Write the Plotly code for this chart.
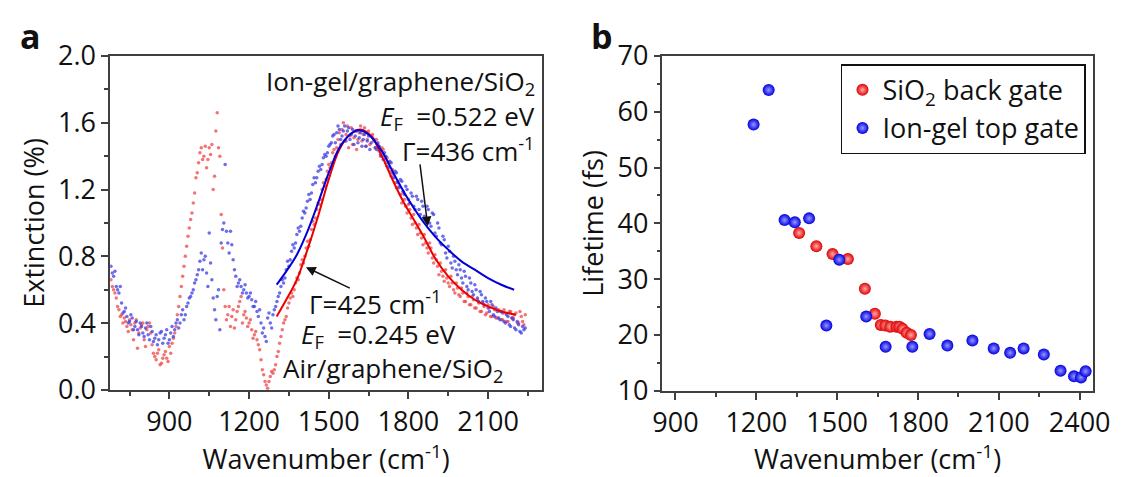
import plotly.graph_objects as go

# ---------------- Panel a data ----------------
wn = [680, 690, 700, 710, 720, 730, 740, 750, 760, 770, 780, 790, 800, 810, 820, 830, 840, 850, 860, 870,
      880, 890, 900, 910, 920, 930, 940, 950, 960, 970, 980, 990, 1000, 1010, 1020, 1030, 1040, 1050, 1060, 1070,
      1080, 1090, 1100, 1110, 1120, 1130, 1140, 1150, 1160, 1170, 1180, 1190, 1200, 1210, 1220, 1230, 1240, 1250, 1260, 1270,
      1280, 1290, 1300, 1310, 1320, 1330, 1340, 1350, 1360, 1370, 1380, 1390, 1400, 1410, 1420, 1430, 1440, 1450, 1460, 1470,
      1480, 1490, 1500, 1510, 1520, 1530, 1540, 1550, 1560, 1570, 1580, 1590, 1600, 1610, 1620, 1630, 1640, 1650, 1660, 1670,
      1680, 1690, 1700, 1710, 1720, 1730, 1740, 1750, 1760, 1770, 1780, 1790, 1800, 1810, 1820, 1830, 1840, 1850, 1860, 1870,
      1880, 1890, 1900, 1910, 1920, 1930, 1940, 1950, 1960, 1970, 1980, 1990, 2000, 2010, 2020, 2030, 2040, 2050, 2060, 2070,
      2080, 2090, 2100, 2110, 2120, 2130, 2140, 2150, 2160, 2170, 2180, 2190, 2200, 2210, 2220, 2230, 2240]

air_ext = [0.66, 0.60, 0.55, 0.48, 0.45, 0.43, 0.38, 0.42, 0.36, 0.40, 0.25, 0.37, 0.40, 0.26, 0.38, 0.34, 0.22, 0.18, 0.24, 0.16,
           0.21, 0.19, 0.26, 0.28, 0.34, 0.45, 0.56, 0.68, 0.80, 0.92, 1.02, 1.12, 1.27, 1.36, 1.45, 1.40, 1.33, 1.45, 1.47, 1.28,
           1.66, 1.40, 0.85, 0.50, 0.45, 0.38, 0.48, 0.42, 0.50, 0.56, 0.45, 0.43, 0.40, 0.36, 0.33, 0.30, 0.24, 0.12, 0.05, 0.01,
           0.08, 0.10, 0.15, 0.23, 0.32, 0.40, 0.44, 0.52, 0.58, 0.60, 0.67, 0.70, 0.78, 0.80, 0.89, 0.90, 1.01, 1.03, 1.12, 1.14,
           1.24, 1.26, 1.35, 1.36, 1.44, 1.45, 1.54, 1.56, 1.49, 1.58, 1.52, 1.47, 1.55, 1.50, 1.58, 1.53, 1.46, 1.55, 1.52, 1.49,
           1.50, 1.43, 1.45, 1.38, 1.39, 1.31, 1.32, 1.24, 1.25, 1.17, 1.18, 1.10, 1.11, 1.03, 1.05, 0.97, 0.99, 0.91, 0.93, 0.85,
           0.88, 0.79, 0.81, 0.74, 0.76, 0.68, 0.72, 0.64, 0.68, 0.60, 0.64, 0.57, 0.61, 0.53, 0.58, 0.51, 0.56, 0.49, 0.54, 0.47,
           0.52, 0.45, 0.51, 0.44, 0.50, 0.43, 0.48, 0.42, 0.48, 0.41, 0.47, 0.43, 0.45, 0.40, 0.47, 0.41, 0.45]

wn_half = [685, 695, 705, 715, 725, 735, 745, 755, 765, 775, 785, 795, 805, 815, 825, 835, 845, 855, 865, 875,
           885, 895, 905, 915, 925, 935, 945, 955, 965, 975, 985, 995, 1005, 1015, 1025, 1035, 1045, 1055, 1065, 1075,
           1085, 1095, 1105, 1115, 1125, 1135, 1145, 1155, 1165, 1175, 1185, 1195, 1205, 1215, 1225, 1235, 1245, 1255, 1265, 1275,
           1285, 1295, 1305, 1315, 1325, 1335, 1345, 1355, 1365, 1375, 1385, 1395, 1405, 1415, 1425, 1435, 1445, 1455, 1465, 1475,
           1485, 1495, 1505, 1515, 1525, 1535, 1545, 1555, 1565, 1575, 1585, 1595, 1605, 1615, 1625, 1635, 1645, 1655, 1665, 1675,
           1685, 1695, 1705, 1715, 1725, 1735, 1745, 1755, 1765, 1775, 1785, 1795, 1805, 1815, 1825, 1835, 1845, 1855, 1865, 1875,
           1885, 1895, 1905, 1915, 1925, 1935, 1945, 1955, 1965, 1975, 1985, 1995, 2005, 2015, 2025, 2035, 2045, 2055, 2065, 2075,
           2085, 2095, 2105, 2115, 2125, 2135, 2145, 2155, 2165, 2175, 2185, 2195, 2205, 2215, 2225, 2235]

air_ext_half = [0.62, 0.58, 0.50, 0.44, 0.40, 0.41, 0.35, 0.39, 0.30, 0.42, 0.34, 0.39, 0.30, 0.36, 0.40, 0.27, 0.20, 0.22, 0.15, 0.19,
                0.23, 0.17, 0.22, 0.31, 0.38, 0.50, 0.62, 0.74, 0.86, 0.97, 1.06, 1.18, 1.30, 1.42, 1.38, 1.46, 1.38, 1.41, 1.20, 1.55,
                1.45, 1.05, 0.60, 0.42, 0.50, 0.44, 0.37, 0.47, 0.53, 0.40, 0.47, 0.38, 0.42, 0.31, 0.35, 0.27, 0.18, 0.09, 0.03, 0.05,
                0.11, 0.12, 0.20, 0.28, 0.36, 0.42, 0.49, 0.55, 0.56, 0.64, 0.66, 0.75, 0.76, 0.85, 0.86, 0.96, 0.99, 1.08, 1.11, 1.20,
                1.22, 1.31, 1.33, 1.42, 1.40, 1.50, 1.47, 1.60, 1.53, 1.45, 1.57, 1.51, 1.44, 1.54, 1.49, 1.57, 1.50, 1.47, 1.53, 1.45,
                1.47, 1.40, 1.44, 1.36, 1.36, 1.28, 1.29, 1.21, 1.22, 1.12, 1.14, 1.06, 1.08, 0.99, 1.00, 0.93, 0.94, 0.87, 0.88, 0.82,
                0.85, 0.76, 0.78, 0.69, 0.71, 0.65, 0.67, 0.62, 0.64, 0.58, 0.61, 0.56, 0.58, 0.53, 0.56, 0.51, 0.54, 0.49, 0.52, 0.47,
                0.50, 0.46, 0.49, 0.44, 0.48, 0.43, 0.47, 0.42, 0.46, 0.41, 0.47, 0.43, 0.46, 0.40, 0.44, 0.39]

iongel_ext = [0.74, 0.68, 0.62, 0.58, 0.52, 0.47, 0.44, 0.41, 0.43, 0.38, 0.36, 0.40, 0.34, 0.37, 0.33, 0.38, 0.29, 0.33, 0.30, 0.35,
              0.31, 0.36, 0.30, 0.38, 0.36, 0.42, 0.40, 0.48, 0.45, 0.52, 0.56, 0.60, 0.66, 0.72, 0.82, 0.78, 0.70, 0.94, 0.66, 0.48,
              0.56, 0.36, 0.96, 1.35, 0.88, 0.95, 0.78, 0.68, 0.64, 0.62, 0.60, 0.58, 0.56, 0.54, 0.50, 0.47, 0.48, 0.34, 0.32, 0.43,
              0.40, 0.45, 0.50, 0.56, 0.62, 0.64, 0.72, 0.74, 0.83, 0.85, 0.93, 0.95, 1.03, 1.06, 1.13, 1.14, 1.23, 1.24, 1.31, 1.32,
              1.39, 1.40, 1.46, 1.48, 1.53, 1.54, 1.56, 1.52, 1.58, 1.55, 1.50, 1.56, 1.52, 1.48, 1.54, 1.50, 1.46, 1.52, 1.48, 1.50,
              1.44, 1.46, 1.40, 1.42, 1.34, 1.37, 1.30, 1.31, 1.24, 1.26, 1.19, 1.22, 1.14, 1.18, 1.10, 1.16, 1.08, 1.13, 1.04, 1.10,
              1.00, 1.06, 0.94, 1.00, 0.88, 0.92, 0.82, 0.86, 0.76, 0.80, 0.72, 0.75, 0.67, 0.71, 0.62, 0.67, 0.59, 0.63, 0.55, 0.59,
              0.53, 0.55, 0.49, 0.53, 0.45, 0.49, 0.43, 0.47, 0.41, 0.45, 0.39, 0.43, 0.37, 0.41, 0.35, 0.38, 0.37]

iongel_ext_half = [0.70, 0.71, 0.60, 0.62, 0.46, 0.49, 0.40, 0.45, 0.36, 0.41, 0.33, 0.38, 0.32, 0.40, 0.30, 0.35, 0.31, 0.27, 0.34, 0.28,
                   0.33, 0.28, 0.34, 0.32, 0.40, 0.37, 0.45, 0.42, 0.50, 0.55, 0.58, 0.64, 0.69, 0.77, 0.72, 0.80, 0.62, 0.76, 0.55, 0.42,
                   0.60, 0.88, 1.00, 0.95, 0.82, 0.87, 0.72, 0.62, 0.66, 0.58, 0.63, 0.55, 0.58, 0.50, 0.53, 0.44, 0.40, 0.37, 0.29, 0.46,
                   0.37, 0.48, 0.53, 0.58, 0.66, 0.67, 0.77, 0.78, 0.87, 0.88, 0.97, 0.98, 1.07, 1.09, 1.17, 1.18, 1.27, 1.27, 1.34, 1.35,
                   1.41, 1.42, 1.47, 1.52, 1.48, 1.58, 1.50, 1.55, 1.49, 1.57, 1.53, 1.47, 1.55, 1.51, 1.46, 1.53, 1.49, 1.44, 1.51, 1.45,
                   1.48, 1.41, 1.38, 1.40, 1.33, 1.36, 1.27, 1.30, 1.21, 1.25, 1.17, 1.20, 1.12, 1.16, 1.08, 1.14, 1.05, 1.10, 1.02, 1.08,
                   0.98, 1.05, 0.92, 0.97, 0.87, 0.90, 0.79, 0.83, 0.73, 0.77, 0.69, 0.72, 0.64, 0.68, 0.60, 0.64, 0.57, 0.60, 0.53, 0.57,
                   0.51, 0.53, 0.47, 0.51, 0.44, 0.47, 0.42, 0.46, 0.40, 0.44, 0.38, 0.42, 0.36, 0.39, 0.34, 0.36]

# fitted curves
fit_air_wn = [1304, 1340, 1380, 1420, 1460, 1500, 1540, 1580, 1620, 1660, 1700, 1740, 1780, 1820, 1860, 1900, 1950, 2000, 2050, 2100, 2150, 2204]
fit_air_ext = [0.44, 0.54, 0.66, 0.84, 1.04, 1.26, 1.44, 1.53, 1.56, 1.52, 1.40, 1.26, 1.13, 1.02, 0.91, 0.79, 0.68, 0.60, 0.54, 0.50, 0.47, 0.45]
fit_ion_wn = [1304, 1340, 1380, 1420, 1460, 1500, 1540, 1580, 1612, 1650, 1700, 1750, 1800, 1850, 1900, 1950, 2000, 2050, 2100, 2150, 2198]
fit_ion_ext = [0.63, 0.71, 0.81, 0.95, 1.12, 1.30, 1.45, 1.53, 1.555, 1.53, 1.43, 1.28, 1.14, 1.02, 0.92, 0.84, 0.77, 0.72, 0.67, 0.63, 0.60]

# ---------------- Panel b data ----------------
sio2_wn = [1359, 1423, 1483, 1540, 1603, 1640, 1662, 1679, 1697, 1720, 1731, 1743, 1758, 1774]
sio2_tau = [38.3, 35.9, 34.5, 33.6, 28.3, 23.8, 21.8, 21.7, 21.5, 21.5, 21.5, 21.1, 20.4, 20.0]
ion_wn = [1190, 1246, 1305, 1343, 1396, 1460, 1508, 1608, 1680, 1779, 1843, 1909, 2002, 2081, 2142, 2192, 2267, 2329, 2379, 2405, 2422]
ion_tau = [57.7, 63.9, 40.6, 40.2, 40.9, 21.7, 33.5, 23.3, 17.9, 17.9, 20.2, 18.1, 19.0, 17.6, 16.8, 17.6, 16.5, 13.6, 12.6, 12.4, 13.5]

W, H = 1135, 477
FONT = "Open Sans"
FS = 27
AFS = 26
AX = "#404040"


def px(x):
    return x / W


def py(y):
    return 1 - y / H


fig = go.Figure()

fig.add_trace(go.Scatter(x=wn + wn_half, y=air_ext + air_ext_half, mode="markers", xaxis="x", yaxis="y",
                         marker=dict(size=3.5, color="rgba(238,70,70,0.75)"), showlegend=False))
fig.add_trace(go.Scatter(x=wn + wn_half, y=iongel_ext + iongel_ext_half, mode="markers", xaxis="x", yaxis="y",
                         marker=dict(size=3.5, color="rgba(60,60,230,0.75)"), showlegend=False))
fig.add_trace(go.Scatter(x=fit_air_wn, y=fit_air_ext, mode="lines", line=dict(color="rgb(235,0,0)", width=2, shape="spline"),
                         xaxis="x", yaxis="y", showlegend=False))
fig.add_trace(go.Scatter(x=fit_ion_wn, y=fit_ion_ext, mode="lines", line=dict(color="rgb(0,0,215)", width=2, shape="spline"),
                         xaxis="x", yaxis="y", showlegend=False))

fig.add_trace(go.Scatter(x=sio2_wn, y=sio2_tau, mode="markers", xaxis="x2", yaxis="y2",
                         name="SiO<sub>2</sub> back gate",
                         marker=dict(size=12, color="rgb(225,0,0)", line=dict(width=0),
                                     gradient=dict(type="radial", color="rgb(255,170,170)"))))
fig.add_trace(go.Scatter(x=ion_wn, y=ion_tau, mode="markers", xaxis="x2", yaxis="y2",
                         name="Ion-gel top gate",
                         marker=dict(size=12, color="rgb(0,0,225)", line=dict(width=0),
                                     gradient=dict(type="radial", color="rgb(150,150,255)"))))

axis_common = dict(showline=True, linecolor=AX, linewidth=1.5, mirror=True, ticks="outside", ticklen=7,
                   tickwidth=1.5, tickcolor=AX, showgrid=False, zeroline=False,
                   tickfont=dict(family=FONT, size=FS, color="#111"))
minor_common = dict(ticklen=4, tickwidth=1.5, tickcolor=AX, ticks="outside")

fig.update_layout(
    width=W, height=H, margin=dict(l=0, r=0, t=0, b=0),
    paper_bgcolor="white", plot_bgcolor="white",
    font=dict(family=FONT, size=FS, color="#111"),
    xaxis=dict(domain=[px(102.7), px(545.7)], range=[677, 2304], tick0=900, dtick=300,
               minor=dict(dtick=150, **minor_common),
               title=dict(text="Wavenumber (cm<sup>-1</sup>)", font=dict(family=FONT, size=FS), standoff=4),
               anchor="y", **axis_common),
    yaxis=dict(domain=[py(401), py(39)], range=[0, 2.0], tick0=0, dtick=0.4, tickformat=".1f",
               minor=dict(dtick=0.2, **minor_common),
               title=dict(text="Extinction (%)", font=dict(family=FONT, size=FS), standoff=6),
               anchor="x", **axis_common),
    xaxis2=dict(domain=[px(669), px(1110)], range=[852, 2448], tick0=900, dtick=300,
                minor=dict(dtick=150, **minor_common),
                title=dict(text="Wavenumber (cm<sup>-1</sup>)", font=dict(family=FONT, size=FS), standoff=4),
                anchor="y2", **axis_common),
    yaxis2=dict(domain=[py(402), py(39)], range=[10, 70], tick0=10, dtick=10,
                minor=dict(dtick=5, **minor_common),
                title=dict(text="Lifetime (fs)", font=dict(family=FONT, size=FS), standoff=6),
                anchor="x2", **axis_common),
    legend=dict(x=px(852), y=py(48), xanchor="left", yanchor="top", bordercolor="#111", borderwidth=1.5,
                bgcolor="white", font=dict(family=FONT, size=FS), itemsizing="constant",
                tracegroupgap=0, itemwidth=30),
)

ann = []


def text(t, x, y, xa="center", size=AFS):
    ann.append(dict(text=t, x=px(x), y=py(y), xref="paper", yref="paper", xanchor=xa, yanchor="middle",
                    showarrow=False, font=dict(family=FONT, size=size, color="#111")))


text("<b>a</b>", 21, 17, size=34)
text("<b>b</b>", 607, 17, size=34)
text("Ion-gel/graphene/SiO<sub>2</sub>", 540, 67, "right")
text("<i>E</i><sub>F</sub>  =0.522 eV", 540, 105, "right")
text("Γ=436 cm<sup>-1</sup>", 540, 141, "right")
text("Γ=425 cm<sup>-1</sup>", 305, 307, "left")
text("<i>E</i><sub>F</sub>  =0.245 eV", 296, 342, "left")
text("Air/graphene/SiO<sub>2</sub>", 278, 378, "left")

ann.append(dict(x=1873, y=0.98, ax=1843, ay=1.36, xref="x", yref="y", axref="x", ayref="y",
                showarrow=True, arrowhead=2, arrowsize=1.3, arrowwidth=1.5, arrowcolor="#111", text=""))
ann.append(dict(x=1414, y=0.735, ax=1585, ay=0.605, xref="x", yref="y", axref="x", ayref="y",
                showarrow=True, arrowhead=2, arrowsize=1.3, arrowwidth=1.5, arrowcolor="#111", text=""))
fig.update_layout(annotations=ann)

fig.write_html("out.html")
